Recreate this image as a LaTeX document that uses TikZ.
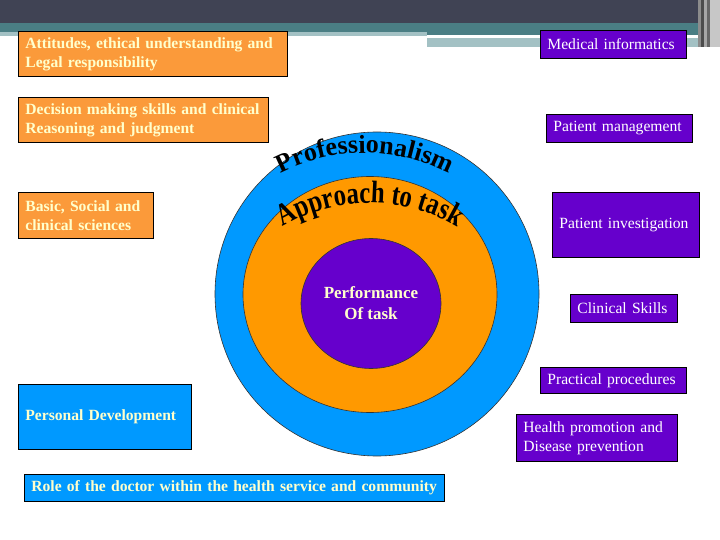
\documentclass[tikz,border=0pt]{standalone}
\usepackage{fontspec}
\setmainfont{Liberation Serif}
\newfontfamily\apfont{Liberation Serif}[FakeStretch=0.8]
\usetikzlibrary{decorations.text,shapes.geometric}
\definecolor{topdark}{HTML}{404354}
\definecolor{topteal}{HTML}{4A7E84}
\definecolor{toplight}{HTML}{A3C1C4}
\definecolor{ringblue}{HTML}{0099FF}
\definecolor{ringorange}{HTML}{FF9900}
\definecolor{boxorange}{HTML}{FB9A3A}
\definecolor{vpurple}{HTML}{6600CC}
\definecolor{cream}{HTML}{FFFFCC}
\tikzset{
  boxbase/.style={draw=black, line width=0.8pt, anchor=north west, align=left,
    inner xsep=7pt, inner ysep=0pt, font=\fontsize{15.6}{19}\selectfont},
  obox/.style={boxbase, fill=boxorange, text=cream, font=\bfseries\fontsize{15.6}{19}\selectfont},
  bbox/.style={boxbase, fill=ringblue, text=cream, font=\bfseries\fontsize{15.6}{19}\selectfont},
  pbox/.style={boxbase, fill=vpurple, text=white},
  ring/.style={draw=black!80, line width=0.6pt}
}
\begin{document}
\begin{tikzpicture}[x=1pt,y=1pt]
\useasboundingbox (0,0) rectangle (720,-540);
\fill[white] (0,0) rectangle (720,-540);
% top decoration
\fill[topdark] (0,0) rectangle (698,-23);
\fill[topteal] (0,-23) rectangle (698,-32);
\fill[topteal] (427,-32) rectangle (698,-35);
\fill[toplight] (0,-32) rectangle (427,-36);
\fill[toplight] (427,-38) rectangle (708,-47);
\fill[black!45] (698,0) rectangle (701,-47);
\fill[black!70] (701,0) rectangle (704,-47);
\fill[black!35] (704,0) rectangle (707,-47);
\fill[black!60] (707,0) rectangle (710,-47);
\fill[black!22] (710,0) rectangle (720,-47);
% rings
\fill[ringblue, ring] (377,-294) circle[radius=162];
\fill[ringorange, ring] (370,-294.5) ellipse[x radius=127, y radius=118];
\node[ring, fill=vpurple, ellipse, minimum width=140, minimum height=130, inner sep=0pt,
  text=cream, font=\bfseries\fontsize{17}{21}\selectfont, align=center]
  (perf) at (371,-303.5) {Performance\\Of task};
\path[decorate, decoration={text along path, text align=center,
  text={|\bfseries\fontsize{26}{26}\selectfont|Professionalism}}]
  ([shift={(365,-336)}]128:183) arc[start angle=128, end angle=52, radius=183];
\path[decorate, decoration={text along path, text align=center,
  text={|\apfont\bfseries\fontsize{31}{31}\selectfont|Approach to task}}]
  ([shift={(370,-373)}]132:170) arc[start angle=132, end angle=48, radius=170];
% left boxes
\node[obox, text width=255, minimum height=45] (att) at (18,-31)
  {\mbox{Attitudes, ethical understanding and}\\\mbox{Legal responsibility}};
\node[obox, text width=236, minimum height=45] (dec) at (18,-97)
  {\mbox{Decision making skills and clinical}\\\mbox{Reasoning and judgment}};
\node[obox, text width=121, minimum height=46] (bas) at (18,-192)
  {\mbox{Basic, Social and}\\\mbox{clinical sciences}};
\node[bbox, text width=159, minimum height=65] (pers) at (18,-384)
  {\mbox{Personal Development}};
\node[bbox, text width=406, minimum height=27] (role) at (24,-474)
  {\mbox{Role of the doctor within the health service and community}};
% right boxes
\node[pbox, text width=132, minimum height=28] (med) at (540,-30) {\mbox{Medical informatics}};
\node[pbox, text width=132, minimum height=28] (pman) at (546,-114) {\mbox{Patient management}};
\node[pbox, text width=133, minimum height=65] (pinv) at (552,-192) {\mbox{Patient investigation}};
\node[pbox, text width=93, minimum height=28] (clin) at (570,-294) {\mbox{Clinical Skills}};
\node[pbox, text width=132, minimum height=26] (prac) at (540,-367) {\mbox{Practical procedures}};
\node[pbox, text width=147, minimum height=47] (hea) at (516,-414)
  {\mbox{Health promotion and}\\\mbox{Disease prevention}};
\end{tikzpicture}
\end{document}
